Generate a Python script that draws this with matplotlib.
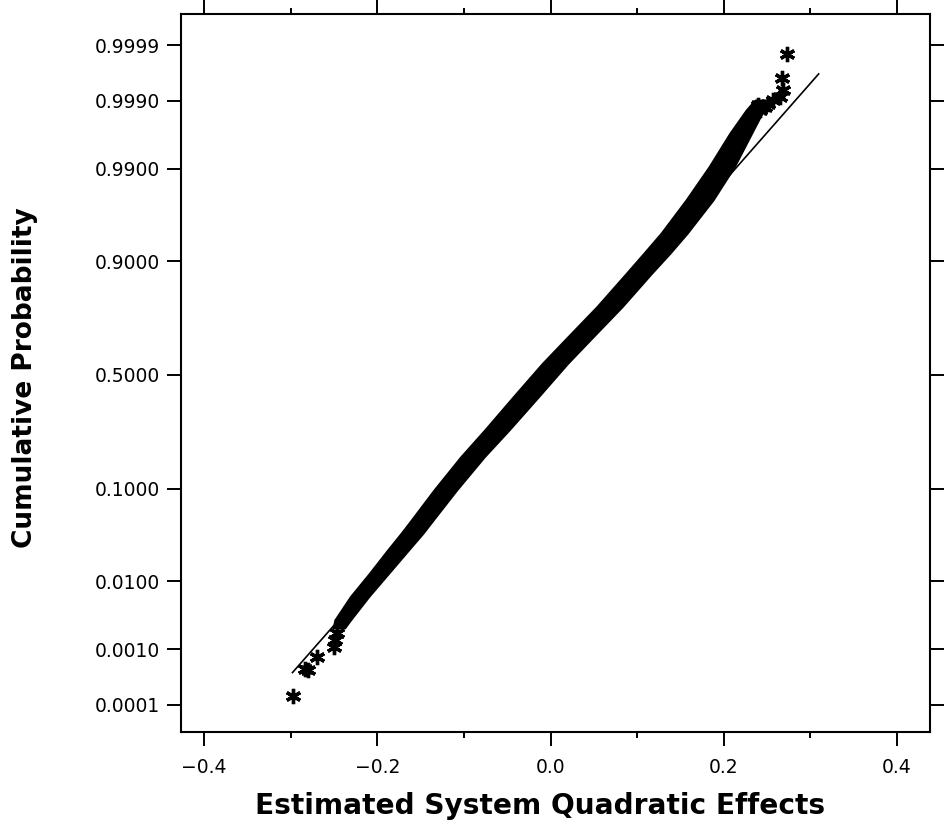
import numpy as np
import matplotlib
matplotlib.use('Agg')
import matplotlib.pyplot as plt
from statistics import NormalDist

# ---- data ----
# dense band of points: left/right edge of the cloud at given cumulative probabilities
band_p = [0.00217, 0.00287, 0.00623, 0.01268, 0.02425, 0.0371, 0.0473, 0.0974,
          0.1785, 0.2676, 0.4032, 0.5525, 0.6536, 0.7794, 0.8742, 0.9147,
          0.9449, 0.9758, 0.99056, 0.99679, 0.99860, 0.99903]
band_left = [-0.2508, -0.2490, -0.2310, -0.2090, -0.1880, -0.1725, -0.1635, -0.1345,
             -0.1035, -0.0760, -0.0430, -0.0093, 0.0165, 0.0535, 0.0875, 0.1075,
             0.1275, 0.1565, 0.1830, 0.2070, 0.2260, 0.2360]
band_right = [-0.2378, -0.2310, -0.2100, -0.1870, -0.1640, -0.1475, -0.1385, -0.1085,
              -0.0765, -0.0480, -0.0140, 0.0197, 0.0455, 0.0825, 0.1165, 0.1375,
              0.1575, 0.1875, 0.2120, 0.2320, 0.2460, 0.2500]

# isolated points in the tails
tail_x = [-0.2971, -0.2837, -0.2800, -0.2691, -0.2498, -0.2483, -0.2460,
          0.2390, 0.2413, 0.2475, 0.2506, 0.2564, 0.2644, 0.2687, 0.2667, 0.2733]
tail_p = [0.000150, 0.000453, 0.000440, 0.000747, 0.001096, 0.001404, 0.00180,
          0.99883, 0.99860, 0.99876, 0.99887, 0.99903, 0.99915, 0.99934, 0.99959, 0.999852]

# fitted normal reference line (end points)
fit_x = [-0.2979, 0.3095]
fit_p = [0.000396, 0.999656]

prob_ticks = [0.0001, 0.001, 0.01, 0.1, 0.5, 0.9, 0.99, 0.999, 0.9999]
prob_labels = ['0.0001', '0.0010', '0.0100', '0.1000', '0.5000',
               '0.9000', '0.9900', '0.9990', '0.9999']
x_ticks = [-0.4, -0.2, 0.0, 0.2, 0.4]
x_minor = [-0.3, -0.1, 0.1, 0.3]

nd = NormalDist()


def probit(p):
    p = np.clip(np.asarray(p, dtype=float), 1e-12, 1 - 1e-12)
    return np.vectorize(nd.inv_cdf, otypes=[float])(p)


def inv_probit(z):
    return np.vectorize(nd.cdf, otypes=[float])(np.asarray(z, dtype=float))


fig = plt.figure(figsize=(9.48, 8.33), dpi=100)
ax = fig.add_axes([0.1909, 0.1213, 0.7901, 0.8619])
ax.set_yscale('function', functions=(probit, inv_probit))

# the cloud of points
ax.fill_betweenx(band_p, band_left, band_right, color='black', lw=1.5,
                 edgecolor='black', joinstyle='round')
ax.plot(tail_x, tail_p, ls='none', marker=(6, 2, 0), ms=11, mew=2.4, color='black')
# reference line
ax.plot(fit_x, fit_p, color='black', lw=1.2)

ax.set_xlim(-0.4266, 0.438)
ax.set_ylim(nd.cdf(-4.025), nd.cdf(4.07))

ax.set_yticks(prob_ticks)
ax.set_yticklabels(prob_labels)
ax.set_xticks(x_ticks)
ax.set_xticklabels(['\u22120.4', '\u22120.2', '0.0', '0.2', '0.4'])
ax.set_xticks(x_minor, minor=True)
ax.yaxis.set_minor_locator(matplotlib.ticker.NullLocator())

ax.tick_params(axis='both', which='major', direction='out', length=10, width=1.4,
               labelsize=13.5, top=True, right=True)
ax.tick_params(axis='x', which='minor', direction='out', length=4, width=1.4, top=True)
ax.tick_params(axis='y', pad=5)
ax.tick_params(axis='x', pad=9)
for s in ax.spines.values():
    s.set_linewidth(1.5)

fig.text(0.570, 0.016, 'Estimated System Quadratic Effects', ha='center', va='bottom',
         fontsize=20.2, fontweight='bold')
fig.text(0.026, 0.547, 'Cumulative Probability', ha='center', va='center',
         rotation=90, fontsize=19, fontweight='bold')

fig.savefig('out.png', dpi=100)
